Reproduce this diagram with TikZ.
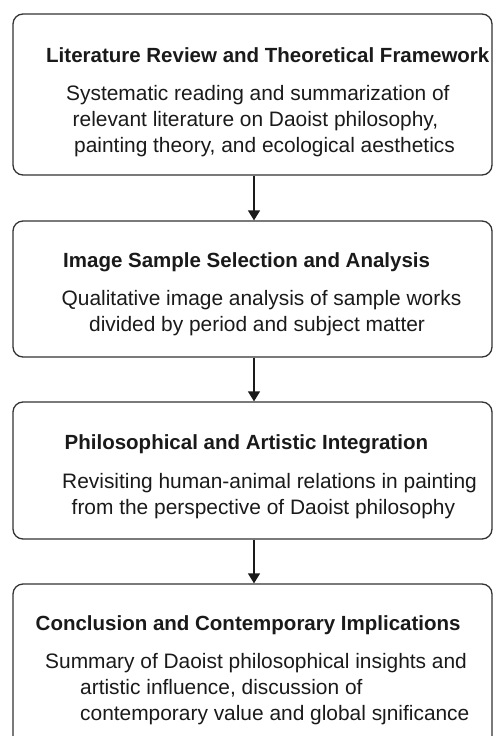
\documentclass[tikz,border=0pt]{standalone}
\usepackage{fontspec}
\setmainfont{Liberation Sans}
\usetikzlibrary{arrows.meta}
\definecolor{edge}{HTML}{333333}
\definecolor{ink}{HTML}{1A1A1A}
\tikzset{
  stagebox/.style={draw=edge, line width=1.3pt, rounded corners=10pt, minimum width=479pt, inner sep=0pt},
  ttl/.style={anchor=base west, inner sep=0pt, text=ink, font=\fontsize{20.5}{24}\selectfont\bfseries},
  body/.style={anchor=base west, inner sep=0pt, text=ink, font=\fontsize{20.9}{24}\selectfont},
  arr/.style={draw=ink, line width=1.3pt, -{Triangle[length=10pt,width=12pt]}}
}
\begin{document}
\begin{tikzpicture}[x=1pt,y=-1pt]
\useasboundingbox (0,0) rectangle (493,736);
\fill[white] (0,0) rectangle (493,736);
% boxes
\node[stagebox, minimum height=161pt] (box1) at (252.5,94.5) {};
\node[stagebox, minimum height=136pt] (box2) at (252.5,289) {};
\node[stagebox, minimum height=137pt] (box3) at (252.5,470.5) {};
\node[stagebox, minimum height=176pt] (box4) at (252.5,672) {};
% box 1
\node[ttl] (t1) at (46,62) {Literature Review and Theoretical Framework};
\node[body] (b1a) at (66,100) {Systematic reading and summarization of};
\node[body] (b1b) at (72.5,126) {relevant literature on Daoist philosophy,};
\node[body] (b1c) at (74,152) {painting theory, and ecological aesthetics};
% box 2
\node[ttl] (t2) at (63,267) {Image Sample Selection and Analysis};
\node[body] (b2a) at (61.5,305) {Qualitative image analysis of sample works};
\node[body] (b2b) at (89,331) {divided by period and subject matter};
% box 3
\node[ttl] (t3) at (64.5,449) {Philosophical and Artistic Integration};
\node[body] (b3a) at (62,488) {Revisiting human-animal relations in painting};
\node[body] (b3b) at (71.5,514) {from the perspective of Daoist philosophy};
% box 4
\node[ttl] (t4) at (35.5,630) {Conclusion and Contemporary Implications};
\node[body] (b4a) at (45,668) {Summary of Daoist philosophical insights and};
\node[body] (b4b) at (80,694) {artistic influence, discussion of};
\node[body] (b4c) at (80,720) {contemporary value and global sȷnificance};
% arrows
\draw[arr] ([xshift=1.5pt]box1.south) -- ([xshift=1.5pt]box2.north);
\draw[arr] ([xshift=1.5pt]box2.south) -- ([xshift=1.5pt]box3.north);
\draw[arr] ([xshift=1.5pt]box3.south) -- ([xshift=1.5pt]box4.north);
\end{tikzpicture}
\end{document}
